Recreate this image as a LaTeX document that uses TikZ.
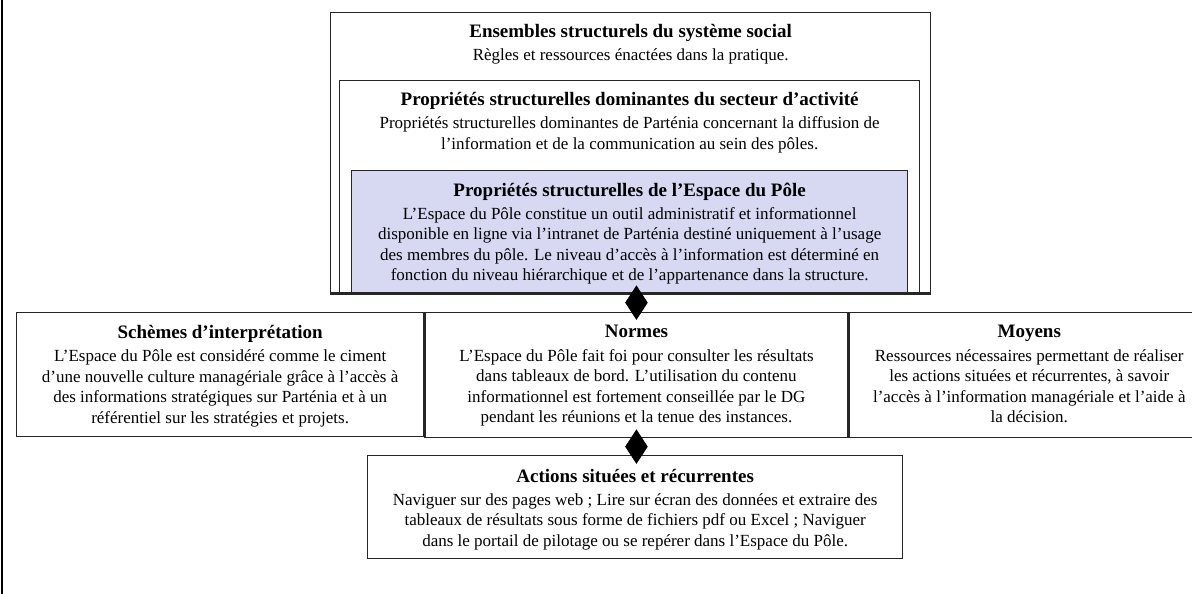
\documentclass[tikz,border=0pt]{standalone}
\usepackage{fontspec}
\setmainfont{Liberation Serif}
\usetikzlibrary{positioning,shapes.geometric}
\definecolor{trait}{HTML}{262626}
\definecolor{lavande}{HTML}{D7D8F2}

\begin{document}
\begin{tikzpicture}[x=1pt,y=-1pt,
    cadre/.style={draw=trait,line width=1.3pt,anchor=north west,inner sep=0pt},
    texte/.style={font=\fontsize{17}{20.5}\selectfont,align=center,inner sep=0pt,anchor=north},
    losange/.style={diamond,fill=black,inner sep=0pt,minimum width=23pt,minimum height=35pt},
    lien/.style={draw=black,line width=1pt}]

    \useasboundingbox (0,0) rectangle (1192,594);
    \clip (0,0) rectangle (1192,594);
    \draw[line width=2.6pt] (2,0) -- (2,594);

    % les trois cadres emboites
    \node[cadre,minimum width=600pt,minimum height=280pt] (ens) at (330,12) {};
    \node[cadre,minimum width=580pt,minimum height=212pt] (sect) at (339,80) {};
    \node[cadre,fill=lavande,minimum width=556pt,minimum height=122pt] (pole) at (351,170) {};
    \draw[trait,line width=2.4pt] (ens.south west) -- (ens.south east);

    \node[texte,below=12.5pt of ens.north] (ensTxt)
      {{\bfseries\fontsize{19}{20.5}\selectfont Ensembles structurels du système social}\\[2.5pt]
       Règles et ressources énactées dans la pratique.};
    \node[texte,below=12.5pt of sect.north] (sectTxt)
      {{\bfseries\fontsize{19}{20.5}\selectfont Propriétés structurelles dominantes du secteur d’activité}\\[2.5pt]
       Propriétés structurelles dominantes de Parténia concernant la diffusion de\\
       l’information et de la communication au sein des pôles.};
    \node[texte,below=12.5pt of pole.north] (poleTxt)
      {{\bfseries\fontsize{19}{20.5}\selectfont Propriétés structurelles de l’Espace du Pôle}\\[2.5pt]
       L’Espace du Pôle constitue un outil administratif et informationnel\\
       disponible en ligne via l’intranet de Parténia destiné uniquement à l’usage\\
       des membres du pôle. Le niveau d’accès à l’information est déterminé en\\
       fonction du niveau hiérarchique et de l’appartenance dans la structure.};

    % rangee des modalites
    \node[cadre,minimum width=407pt,minimum height=124pt] (schemes) at (16,312) {};
    \node[cadre,minimum width=423pt,minimum height=125pt] (normes) at (schemes.north east) {};
    \node[cadre,minimum width=380pt,minimum height=125pt] (moyens) at (normes.north east) {};

    \node[texte,below=13pt of schemes.north] (schemesTxt)
      {{\bfseries\fontsize{19}{20.5}\selectfont Schèmes d’interprétation}\\[3pt]
       L’Espace du Pôle est considéré comme le ciment\\
       d’une nouvelle culture managériale grâce à l’accès à\\
       des informations stratégiques sur Parténia et à un\\
       référentiel sur les stratégies et projets.};
    \node[texte,below=13pt of normes.north] (normesTxt)
      {{\bfseries\fontsize{19}{20.5}\selectfont Normes}\\[3pt]
       L’Espace du Pôle fait foi pour consulter les résultats\\
       dans tableaux de bord. L’utilisation du contenu\\
       informationnel est fortement conseillée par le DG\\
       pendant les réunions et la tenue des instances.};
    \node[texte,below=13pt of moyens.north,xshift=-10pt] (moyensTxt)
      {{\bfseries\fontsize{19}{20.5}\selectfont Moyens}\\[3pt]
       Ressources nécessaires permettant de réaliser\\
       les actions situées et récurrentes, à savoir\\
       l’accès à l’information managériale et l’aide à\\
       la décision.};

    % actions
    \node[cadre,minimum width=535pt,minimum height=103pt] (actions) at (367,455) {};
    \node[texte,below=14pt of actions.north] (actionsTxt)
      {{\bfseries\fontsize{19}{20.5}\selectfont Actions situées et récurrentes}\\[2.5pt]
       Naviguer sur des pages web ; Lire sur écran des données et extraire des\\
       tableaux de résultats sous forme de fichiers pdf ou Excel ; Naviguer\\
       dans le portail de pilotage ou se repérer dans l’Espace du Pôle.};

    % liens
    \draw[lien] (normes.north |- pole.south) -- (normes.north) node[losange,midway] (d1) {};
    \draw[lien] (normes.south) -- (normes.south |- actions.north) node[losange,midway] (d2) {};
\end{tikzpicture}
\end{document}
